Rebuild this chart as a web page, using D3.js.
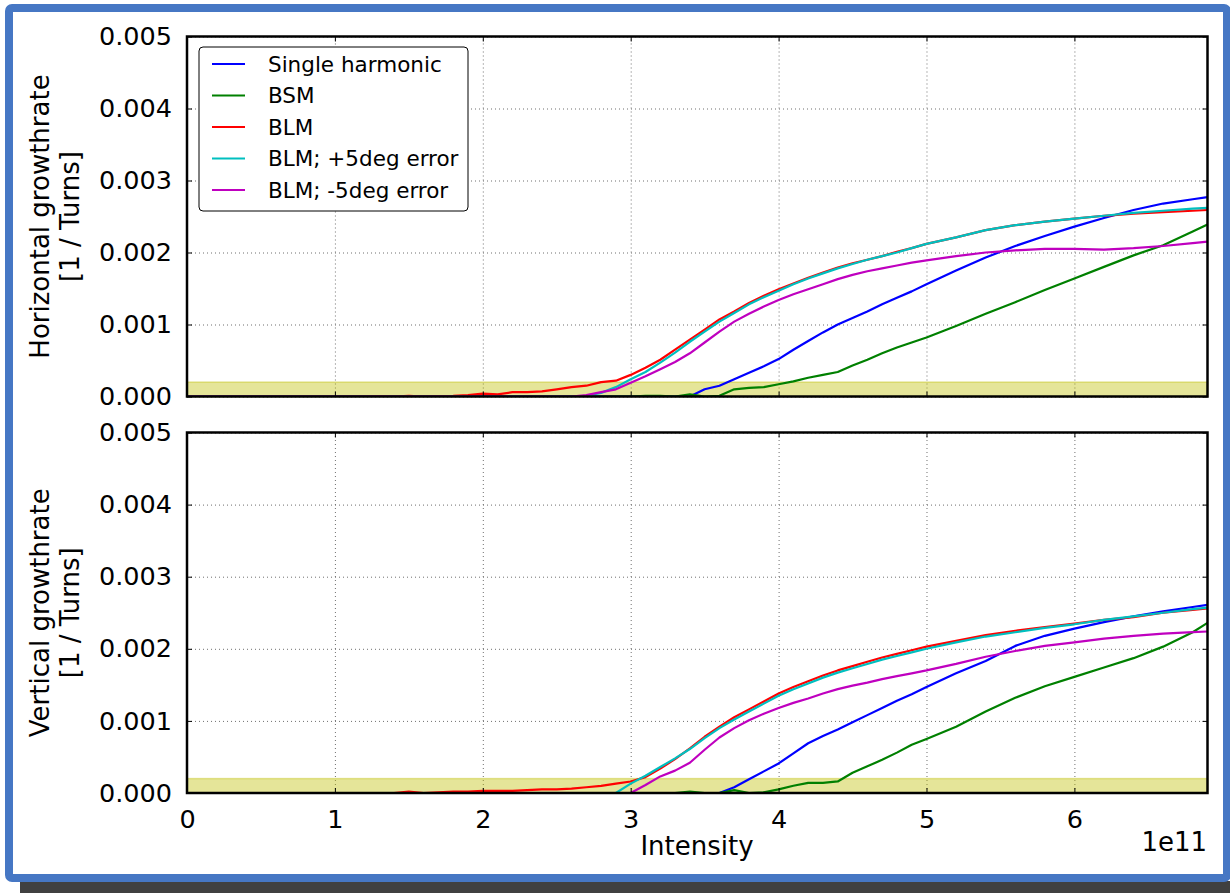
<!DOCTYPE html>
<html>
<head>
<meta charset="utf-8">
<script src="https://cdn.jsdelivr.net/npm/d3@7"></script>
<style>
    body { margin: 0; background: #fff; }
    text { font-family: "DejaVu Sans", sans-serif; }
</style>
</head>
<body>
<div id="chart"></div>
<script>

// intensity grid, units of 1e11
const intensity = [0.0, 1.0, 1.1, 1.2, 1.3, 1.4, 1.5, 1.6, 1.7, 1.8, 1.9,
    2.0, 2.1, 2.2, 2.3, 2.4, 2.5, 2.6, 2.7, 2.8, 2.9,
    3.0, 3.1, 3.2, 3.3, 3.4, 3.5, 3.6, 3.7, 3.8, 3.9,
    4.0, 4.1, 4.2, 4.3, 4.4, 4.5, 4.6, 4.7, 4.8, 4.9, 5.0,
    5.2, 5.4, 5.6, 5.8, 6.0, 6.2, 6.4, 6.6, 6.8, 6.9];

const seriesNames = ["Single harmonic", "BSM", "BLM", "BLM; +5deg error", "BLM; -5deg error"];
const seriesColors = ["#0000ff", "#008000", "#ff0000", "#00bfbf", "#bf00bf"];

const xTicks = [0, 1, 2, 3, 4, 5, 6];
const yTicks = [0, 0.001, 0.002, 0.003, 0.004, 0.005];
const threshold = 0.0002; // shaded band

// growthrates, units of 1e-3 per turn
const horizSingle = [0, 0, 0, 0, 0, 0, 0, 0, 0, 0, 0,
    0, 0, 0, 0, 0, 0, 0, 0, 0, 0,
    0, 0, 0, 0, 0, 0.10, 0.15, 0.24, 0.33, 0.42,
    0.52, 0.65, 0.77, 0.89, 1.00, 1.09, 1.18, 1.28, 1.37, 1.46, 1.56,
    1.75, 1.93, 2.09, 2.23, 2.36, 2.48, 2.59, 2.68, 2.74, 2.77];
const horizBSM = [0, 0, 0, 0, 0, 0, 0, 0, 0, 0, 0,
    0, 0, 0, 0, 0, 0, 0, 0, 0, 0,
    0, 0.01, 0.01, 0, 0.03, 0, 0.01, 0.10, 0.12, 0.13,
    0.17, 0.21, 0.26, 0.30, 0.34, 0.43, 0.51, 0.60, 0.68, 0.75, 0.82,
    0.98, 1.15, 1.31, 1.48, 1.64, 1.80, 1.96, 2.10, 2.29, 2.39];
const horizBLM = [0, 0, 0, 0, 0.005, 0, 0.01, 0, 0.005, 0.01, 0.02,
    0.04, 0.03, 0.06, 0.06, 0.07, 0.10, 0.13, 0.15, 0.20, 0.22,
    0.30, 0.40, 0.51, 0.65, 0.79, 0.93, 1.07, 1.18, 1.30, 1.40,
    1.49, 1.57, 1.65, 1.72, 1.79, 1.85, 1.90, 1.95, 2.01, 2.06, 2.12,
    2.21, 2.31, 2.38, 2.43, 2.47, 2.51, 2.54, 2.56, 2.58, 2.59];
const horizPlus5 = [0, 0, 0, 0, 0, 0, 0, 0, 0, 0, 0,
    0, 0, 0, 0, 0, 0, 0, 0.01, 0.05, 0.13,
    0.24, 0.34, 0.47, 0.61, 0.76, 0.90, 1.04, 1.16, 1.28, 1.38,
    1.47, 1.56, 1.64, 1.71, 1.78, 1.84, 1.90, 1.95, 2.00, 2.06, 2.12,
    2.21, 2.31, 2.38, 2.43, 2.47, 2.51, 2.55, 2.58, 2.61, 2.62];
const horizMinus5 = [0, 0, 0, 0, 0, 0, 0, 0, 0, 0, 0,
    0, 0, 0, 0, 0, 0, 0, 0.02, 0.06, 0.10,
    0.19, 0.28, 0.38, 0.48, 0.60, 0.75, 0.90, 1.04, 1.15, 1.25,
    1.34, 1.42, 1.49, 1.56, 1.63, 1.69, 1.74, 1.78, 1.82, 1.86, 1.89,
    1.95, 2.00, 2.03, 2.05, 2.05, 2.04, 2.06, 2.09, 2.13, 2.15];

const vertSingle = [0, 0, 0, 0, 0, 0, 0, 0, 0, 0, 0,
    0, 0, 0, 0, 0, 0, 0, 0, 0, 0,
    0, 0, 0, 0, 0, 0, 0, 0.08, 0.19, 0.30,
    0.41, 0.55, 0.69, 0.79, 0.88, 0.98, 1.08, 1.18, 1.28, 1.37, 1.47,
    1.66, 1.83, 2.04, 2.18, 2.28, 2.37, 2.45, 2.52, 2.58, 2.61];
const vertBSM = [0, 0, 0, 0, 0, 0, 0, 0, 0, 0, 0,
    0, 0, 0, 0, 0, 0, 0, 0, 0, 0,
    0, 0, 0, 0, 0.02, 0, 0, 0.04, 0, 0.01,
    0.05, 0.10, 0.14, 0.14, 0.16, 0.28, 0.37, 0.46, 0.56, 0.67, 0.75,
    0.92, 1.13, 1.32, 1.48, 1.61, 1.74, 1.87, 2.03, 2.23, 2.36];
const vertBLM = [0, 0, 0, 0, 0, 0, 0.02, 0, 0.01, 0.02, 0.02,
    0.03, 0.03, 0.03, 0.04, 0.05, 0.05, 0.06, 0.08, 0.10, 0.13,
    0.16, 0.22, 0.34, 0.47, 0.62, 0.78, 0.92, 1.05, 1.16, 1.27,
    1.38, 1.47, 1.55, 1.63, 1.70, 1.76, 1.82, 1.88, 1.93, 1.98, 2.03,
    2.11, 2.19, 2.25, 2.30, 2.35, 2.40, 2.44, 2.50, 2.54, 2.56];
const vertPlus5 = [0, 0, 0, 0, 0, 0, 0, 0, 0, 0, 0,
    0, 0, 0, 0, 0, 0, 0, 0, 0, 0,
    0.13, 0.24, 0.36, 0.48, 0.61, 0.76, 0.90, 1.02, 1.13, 1.24,
    1.35, 1.44, 1.52, 1.60, 1.67, 1.73, 1.79, 1.85, 1.90, 1.95, 2.00,
    2.09, 2.17, 2.23, 2.29, 2.34, 2.40, 2.45, 2.50, 2.55, 2.57];
const vertMinus5 = [0, 0, 0, 0, 0, 0, 0, 0, 0, 0, 0,
    0, 0, 0, 0, 0, 0, 0, 0, 0, 0,
    0, 0.11, 0.23, 0.31, 0.42, 0.60, 0.77, 0.90, 1.01, 1.10,
    1.18, 1.25, 1.31, 1.38, 1.44, 1.49, 1.53, 1.58, 1.62, 1.66, 1.70,
    1.79, 1.89, 1.97, 2.04, 2.09, 2.14, 2.18, 2.21, 2.23, 2.24];


class GrowthVis {

    constructor(parentElement, panels) {
        this.parentElement = parentElement;
        this.panels = panels;
        this.initVis();
    }

    initVis() {
        let vis = this;

        vis.width = 1230;
        vis.height = 893;

        vis.svg = d3.select("#" + vis.parentElement).append("svg")
            .attr("width", vis.width)
            .attr("height", vis.height);

        // slide frame + shadow
        vis.svg.append("rect")
            .attr("x", 20).attr("y", 881)
            .attr("width", 1210).attr("height", 12)
            .attr("fill", "#404040");
        vis.svg.append("rect")
            .attr("x", 9).attr("y", 8)
            .attr("width", 1218).attr("height", 870)
            .attr("rx", 3)
            .attr("fill", "#fff")
            .attr("stroke", "#4677c4")
            .attr("stroke-width", 8);

        vis.x = d3.scaleLinear()
            .domain([0, 6.9])
            .range([187, 1207.5]);

        vis.line = d3.line()
            .x(d => vis.x(d[0]))
            .y(d => vis.y(d[1]));

        vis.panels.forEach((p, i) => vis.drawPanel(p, i, i === vis.panels.length - 1));

        // x label + offset text
        vis.svg.append("text")
            .attr("x", 697).attr("y", 855)
            .attr("text-anchor", "middle")
            .attr("font-size", 26)
            .text("Intensity");
        vis.svg.append("text")
            .attr("x", 1207).attr("y", 851)
            .attr("text-anchor", "end")
            .attr("font-size", 26)
            .text("1e11");

        vis.drawLegend();
    }

    drawPanel(p, idx, showX) {
        let vis = this;

        let y = d3.scaleLinear()
            .domain([0, 0.005])
            .range([p.bottom, p.top]);
        vis.y = y;

        let x0 = vis.x.range()[0], x1 = vis.x.range()[1];
        let g = vis.svg.append("g").attr("class", "panel");

        g.append("clipPath")
            .attr("id", "clip" + idx)
            .append("rect")
            .attr("x", x0).attr("y", p.top)
            .attr("width", x1 - x0).attr("height", p.bottom - p.top);

        // grid
        let gx = g.append("g")
            .attr("transform", `translate(0, ${p.bottom})`)
            .call(d3.axisBottom(vis.x).tickValues(xTicks).tickSize(-(p.bottom - p.top)).tickFormat(""));
        let gy = g.append("g")
            .attr("transform", `translate(${x0}, 0)`)
            .call(d3.axisLeft(y).tickValues(yTicks).tickSize(-(x1 - x0)).tickFormat(""));
        [gx, gy].forEach(a => {
            a.select(".domain").remove();
            a.selectAll("line")
                .attr("stroke", "#6e6e6e")
                .attr("stroke-width", 1)
                .attr("stroke-dasharray", "1,3");
        });

        // threshold band
        g.append("rect")
            .attr("x", x0).attr("y", y(threshold))
            .attr("width", x1 - x0).attr("height", y(0) - y(threshold))
            .attr("fill", "rgba(191,191,0,0.4)")
            .attr("stroke", "rgba(191,191,0,0.4)")
            .attr("stroke-width", 1.5);

        // curves
        let lines = g.append("g").attr("clip-path", `url(#clip${idx})`);
        p.series.forEach((s, i) => {
            let pts = intensity.map((xv, j) => [xv, s[j] * 1e-3]);
            lines.append("path")
                .datum(pts)
                .attr("fill", "none")
                .attr("stroke", seriesColors[i])
                .attr("stroke-width", 2.2)
                .attr("stroke-linejoin", "round")
                .attr("d", vis.line);
        });

        // inward ticks on all sides
        let left = g.append("g")
            .attr("transform", `translate(${x0}, 0)`)
            .call(d3.axisLeft(y).tickValues(yTicks).tickSizeInner(-5).tickSizeOuter(0)
                .tickPadding(15).tickFormat(d3.format(".3f")));
        let right = g.append("g")
            .attr("transform", `translate(${x1}, 0)`)
            .call(d3.axisRight(y).tickValues(yTicks).tickSizeInner(-5).tickSizeOuter(0).tickFormat(""));
        let top = g.append("g")
            .attr("transform", `translate(0, ${p.top})`)
            .call(d3.axisTop(vis.x).tickValues(xTicks).tickSizeInner(-5).tickSizeOuter(0).tickFormat(""));
        let bottom = g.append("g")
            .attr("transform", `translate(0, ${p.bottom})`)
            .call(d3.axisBottom(vis.x).tickValues(xTicks).tickSizeInner(-5).tickSizeOuter(0)
                .tickPadding(17).tickFormat(showX ? d3.format("d") : ""));
        [left, right, top, bottom].forEach(a => {
            a.select(".domain").remove();
            a.attr("font-size", 25.5).attr("font-family", null);
            a.selectAll("line").attr("stroke", "#000").attr("stroke-width", 1);
            a.selectAll("text").attr("fill", "#000");
        });

        // spines
        g.append("rect")
            .attr("x", x0).attr("y", p.top)
            .attr("width", x1 - x0).attr("height", p.bottom - p.top)
            .attr("fill", "none")
            .attr("stroke", "#000")
            .attr("stroke-width", 2.5);

        // y label (two lines)
        let cy = (p.top + p.bottom) / 2;
        p.label.forEach((t, i) => {
            g.append("text")
                .attr("transform", `translate(${49 + i * 30}, ${cy}) rotate(-90)`)
                .attr("text-anchor", "middle")
                .attr("font-size", 26)
                .text(t);
        });
    }

    drawLegend() {
        let vis = this;

        let lg = vis.svg.append("g").attr("class", "legend");
        lg.append("rect")
            .attr("x", 199).attr("y", 47)
            .attr("width", 269).attr("height", 164)
            .attr("rx", 4)
            .attr("fill", "#fff")
            .attr("stroke", "#000")
            .attr("stroke-width", 1);

        seriesNames.forEach((name, i) => {
            let yy = 64 + i * 31.5;
            lg.append("line")
                .attr("x1", 212).attr("x2", 245)
                .attr("y1", yy).attr("y2", yy)
                .attr("stroke", seriesColors[i])
                .attr("stroke-width", 2.2);
            lg.append("text")
                .attr("x", 268).attr("y", yy)
                .attr("dy", "0.36em")
                .attr("font-size", 21.5)
                .text(name);
        });
    }
}

let panels = [
    {top: 36.5, bottom: 396.5, label: ["Horizontal growthrate", "[1 / Turns]"],
        series: [horizSingle, horizBSM, horizBLM, horizPlus5, horizMinus5]},
    {top: 432.5, bottom: 793, label: ["Vertical growthrate", "[1 / Turns]"],
        series: [vertSingle, vertBSM, vertBLM, vertPlus5, vertMinus5]}
];

let growthVis = new GrowthVis("chart", panels);

</script>
</body>
</html>
